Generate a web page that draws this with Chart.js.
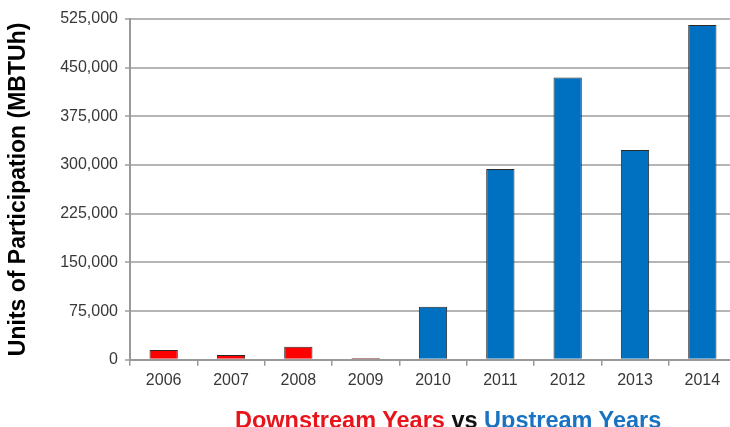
<!DOCTYPE html>
<html>
<head>
<meta charset="utf-8">
<script src="https://cdn.jsdelivr.net/npm/chart.js@4/dist/chart.umd.min.js"></script>
<style>
  html, body { margin: 0; padding: 0; overflow: hidden; background: #fff; }
  #wrap { position: relative; width: 730px; height: 427px; overflow: hidden; }
  #caption {
    position: absolute;
    left: 235px;
    top: 409px;
    font: bold 23.5px "Liberation Sans", Arial, sans-serif;
    line-height: 1;
    white-space: nowrap;
  }
  #caption .down { color: #E8141C; }
  #caption .vs { color: #111; }
  #caption .up { color: #1A73C2; }
</style>
</head>
<body>
<div id="wrap">
  <!-- canvas runs a little past the right edge so the last bar sits where it should -->
  <canvas id="data_viz" width="736" height="427"></canvas>
  <div id="caption"><span class="down">Downstream Years</span> <span class="vs">vs</span> <span class="up">Upstream Years</span></div>
</div>
<script>
  // participation per year, split by program type
  var years = ['2006', '2007', '2008', '2009', '2010', '2011', '2012', '2013', '2014']
  var downstream = [15000, 7300, 20000, 2600, null, null, null, null, null]
  var upstream = [null, null, null, null, 81800, 293800, 435000, 323200, 515700]

  var yMax = 525000
  var yStep = 75000

  var font = "'Liberation Sans', Arial, sans-serif"
  var gridGrey = '#b5b5b5'

  var ctx = document.getElementById('data_viz')
  var chart = new Chart(ctx, {
    type: 'bar',
    data: {
      labels: years,
      datasets: [{
        label: 'Downstream Years',
        data: downstream,
        backgroundColor: '#FF0000',
        borderColor: '#2a2a2a',
        borderWidth: 1
      }, {
        label: 'Upstream Years',
        data: upstream,
        backgroundColor: '#0070C0',
        borderColor: '#2a2a2a',
        borderWidth: 1
      }]
    },
    options: {
      responsive: false,
      animation: false,
      skipNull: true,
      barPercentage: 0.42,
      categoryPercentage: 1,
      layout: {
        padding: { top: 19, right: 0, bottom: 32, left: 0 }
      },
      plugins: {
        legend: { display: false },
        tooltip: { enabled: false }
      },
      scales: {
        x: {
          grid: {
            display: true,
            drawOnChartArea: false,
            drawTicks: true,
            tickLength: 6,
            color: '#999',
            lineWidth: 1.5
          },
          border: { color: '#999', width: 2 },
          ticks: {
            color: '#383838',
            padding: 5,
            font: { family: font, size: 16 }
          }
        },
        y: {
          min: 0,
          max: yMax,
          afterFit: function(scale) {
            scale.width = 130
          },
          grid: {
            color: gridGrey,
            lineWidth: 2,
            tickLength: 5
          },
          border: { color: '#999', width: 2 },
          ticks: {
            stepSize: yStep,
            color: '#383838',
            padding: 7,
            font: { family: font, size: 16 },
            callback: function(v) {
              return v.toLocaleString('en-US')
            }
          },
          title: {
            display: true,
            text: 'Units of Participation (MBTUh)',
            color: '#000',
            padding: { top: 5, bottom: 0 },
            font: { family: font, size: 23, weight: 'bold' }
          }
        }
      }
    }
  })
</script>
</body>
</html>
